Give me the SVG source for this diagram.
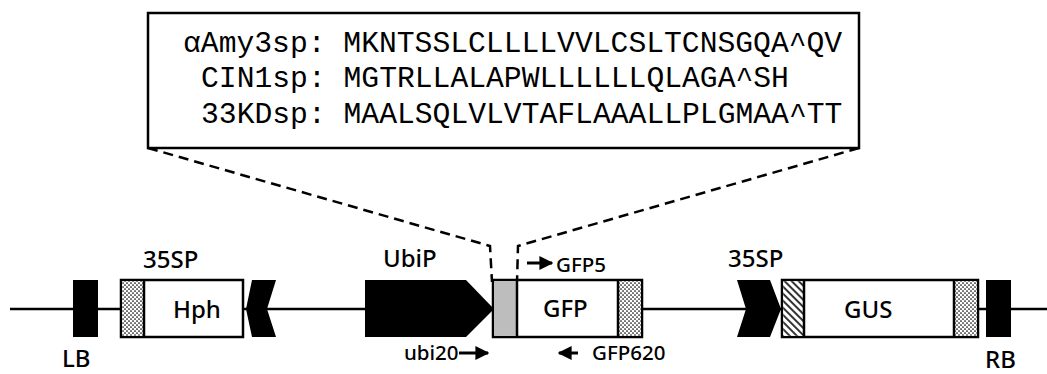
<svg xmlns="http://www.w3.org/2000/svg" width="1047" height="374" viewBox="0 0 1047 374">
<style>
.seq{font-family:"Liberation Mono","DejaVu Sans Mono",monospace;font-size:29.7px;fill:#000}
.lbl{font-family:"Noto Sans","Open Sans",sans-serif;font-size:24px;font-weight:500;fill:#000}
.sm{font-family:"Noto Sans","Open Sans",sans-serif;font-size:20.5px;font-weight:500;fill:#000}
.box{stroke:#000;stroke-width:2.5;fill:#fff}
.blk{fill:#000;stroke:none}
.dash{fill:none;stroke:#000;stroke-width:2.5;stroke-dasharray:10 6}
.pr{stroke:#000;stroke-width:3;fill:none;marker-end:url(#ah)}
</style>
<defs>
<pattern id="dots" width="4" height="4" patternUnits="userSpaceOnUse"><rect width="4" height="4" fill="#fff"/><circle cx="1" cy="1" r="0.85" fill="#000"/><circle cx="3" cy="3" r="0.85" fill="#000"/></pattern>
<pattern id="hatch" width="5" height="5" patternUnits="userSpaceOnUse" patternTransform="rotate(-45)"><rect width="5" height="5" fill="#fff"/><line x1="1" y1="0" x2="1" y2="5" stroke="#000" stroke-width="1.6"/></pattern>
<marker id="ah" viewBox="0 0 10 10" refX="9" refY="5" markerWidth="14" markerHeight="14" markerUnits="userSpaceOnUse" orient="auto"><path d="M0,0 L10,5 L0,10 z" fill="#000"/></marker>
</defs>
<rect width="1047" height="374" fill="#fff"/>

<g id="backbone"><line x1="10" y1="309" x2="1047" y2="309" stroke="#000" stroke-width="2.5"/></g>

<g id="connectors">
<polyline class="dash" points="148,148 490,246 492,282"/>
<polyline class="dash" points="859,148 518,246 517,282"/>
</g>

<g id="signal-box">
<rect class="box" x="148" y="13" width="711" height="135"/>
<text class="seq" x="183" y="52">αAmy3sp: MKNTSSLCLLLLVVLCSLTCNSGQA^QV</text>
<text class="seq" x="201" y="87">CIN1sp: MGTRLLALAPWLLLLLLQLAGA^SH</text>
<text class="seq" x="201" y="123">33KDsp: MAALSQLVLVTAFLAAALLPLGMAA^TT</text>
</g>

<g id="LB">
<rect class="blk" x="73" y="280" width="25" height="57"/>
<text class="lbl" x="62" y="367">LB</text>
</g>

<g id="Hph">
<rect class="box" x="121" y="280" width="122" height="57"/>
<rect x="122.25" y="281.25" width="22" height="54.5" fill="url(#dots)"/>
<line x1="144" y1="280" x2="144" y2="337" stroke="#000" stroke-width="2.5"/>
<text class="lbl" x="173" y="318">Hph</text>
<text class="lbl" x="143" y="268">35SP</text>
</g>

<g id="35SP-left">
<polygon class="blk" points="252,280 276,280 267,309 276,337 252,337 246,309"/>
</g>

<g id="UbiP">
<polygon class="blk" points="365,280 466,280 494,309 466,337 365,337"/>
<text class="lbl" x="383" y="267">UbiP</text>
</g>

<g id="GFP">
<rect class="box" x="493" y="280" width="149" height="57"/>
<rect x="494.25" y="281.25" width="22.5" height="54.5" fill="#bdbdbd"/>
<line x1="517" y1="280" x2="517" y2="337" stroke="#000" stroke-width="2.5"/>
<rect x="618" y="281.25" width="22.75" height="54.5" fill="url(#dots)"/>
<line x1="618" y1="280" x2="618" y2="337" stroke="#000" stroke-width="2.5"/>
<text class="lbl" x="543" y="317">GFP</text>
</g>

<g id="primers">
<line class="pr" x1="527" y1="263" x2="552" y2="263"/>
<text class="sm" x="556" y="272">GFP5</text>
<text class="sm" x="404" y="360">ubi20</text>
<line class="pr" x1="459" y1="353" x2="488" y2="353"/>
<line class="pr" x1="578" y1="353" x2="559" y2="353"/>
<text class="sm" x="592" y="360">GFP620</text>
</g>

<g id="35SP-right">
<polygon class="blk" points="737,280 770,280 781,309 770,337 737,337 746,309"/>
<text class="lbl" x="728" y="267">35SP</text>
</g>

<g id="GUS">
<rect class="box" x="782" y="280" width="196" height="57"/>
<rect x="783.25" y="281.25" width="21" height="54.5" fill="url(#hatch)"/>
<line x1="804" y1="280" x2="804" y2="337" stroke="#000" stroke-width="2.5"/>
<rect x="954" y="281.25" width="22.75" height="54.5" fill="url(#dots)"/>
<line x1="954" y1="280" x2="954" y2="337" stroke="#000" stroke-width="2.5"/>
<text class="lbl" x="844" y="318">GUS</text>
</g>

<g id="RB">
<rect class="blk" x="986" y="280" width="25" height="57"/>
<text class="lbl" x="985" y="368">RB</text>
</g>
</svg>
